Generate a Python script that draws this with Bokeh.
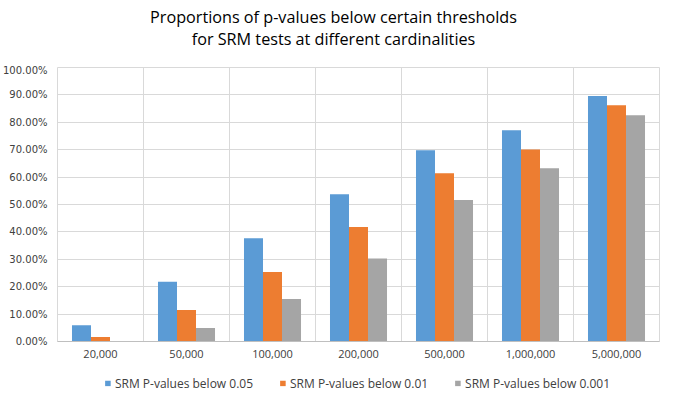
from bokeh.plotting import figure
from bokeh.layouts import column
from bokeh.models import (ColumnDataSource, Range1d, FixedTicker, NumeralTickFormatter,
                          Grid, Legend, LegendItem, Label)
from bokeh.transform import dodge
from bokeh.embed import file_html
from bokeh.resources import INLINE

# ---- data ----
categories = ["20,000", "50,000", "100,000", "200,000", "500,000", "1,000,000", "5,000,000"]
below_005 = [0.059, 0.218, 0.377, 0.537, 0.698, 0.771, 0.896]
below_001 = [0.016, 0.115, 0.254, 0.418, 0.614, 0.701, 0.862]
below_0001 = [0.000, 0.049, 0.155, 0.303, 0.516, 0.632, 0.826]
series_names = ["SRM P-values below 0.05", "SRM P-values below 0.01", "SRM P-values below 0.001"]
title_line1 = "Proportions of p-values below certain thresholds"
title_line2 = "for SRM tests at different cardinalities"
y_ticks = [0.0, 0.1, 0.2, 0.3, 0.4, 0.5, 0.6, 0.7, 0.8, 0.9, 1.0]

colors = ["#5B9BD5", "#ED7D31", "#A5A5A5"]
positions = [i + 0.5 for i in range(len(categories))]
FW = 602

source = ColumnDataSource(dict(x=positions, s1=below_005, s2=below_001, s3=below_0001))

# ---- title strip ----
pt = figure(frame_width=FW, frame_height=64, output_backend="svg", toolbar_location=None,
            x_axis_location=None, y_axis_location=None,
            x_range=Range1d(0, 1), y_range=Range1d(2, 3),
            min_border_left=55, min_border_right=1, min_border_top=0, min_border_bottom=0)
pt.outline_line_color = None
pt.grid.visible = False
pt.title = None
for txt, yy in [(title_line1, 48), (title_line2, 26)]:
    pt.add_layout(Label(x=276, y=yy, x_units="screen", y_units="screen", text=txt,
                        text_align="center", text_baseline="middle",
                        text_font="Open Sans", text_font_size="16.2px", text_color="#000000"))

# ---- main chart ----
p = figure(frame_width=FW, frame_height=274, output_backend="svg", toolbar_location=None,
           x_range=Range1d(0, len(categories)), y_range=Range1d(0, 1),
           min_border_left=55, min_border_right=1, min_border_top=3, min_border_bottom=35)
p.title = None

bw = 0.221
p.vbar(x=dodge("x", -bw, range=p.x_range), top="s1", width=bw, source=source,
       fill_color=colors[0], line_color=None)
p.vbar(x=dodge("x", 0, range=p.x_range), top="s2", width=bw, source=source,
       fill_color=colors[1], line_color=None)
p.vbar(x=dodge("x", bw, range=p.x_range), top="s3", width=bw, source=source,
       fill_color=colors[2], line_color=None)

p.xaxis.axis_label = None
p.xaxis.ticker = FixedTicker(ticks=positions)
p.xaxis.major_label_overrides = {pos: lab for pos, lab in zip(positions, categories)}
p.xaxis.major_tick_line_color = None
p.xaxis.major_tick_out = 0
p.xaxis.major_tick_in = 0
p.xaxis.minor_tick_line_color = None
p.xaxis.axis_line_color = "#BFBFBF"
p.xaxis.major_label_text_font = "Open Sans"
p.xaxis.major_label_text_font_size = "11px"
p.xaxis.major_label_text_color = "#404040"
p.xaxis.major_label_standoff = 8

p.yaxis.axis_label = None
p.yaxis.ticker = FixedTicker(ticks=y_ticks)
p.yaxis.formatter = NumeralTickFormatter(format="0.00%")
p.yaxis.major_tick_line_color = None
p.yaxis.major_tick_out = 0
p.yaxis.major_tick_in = 0
p.yaxis.minor_tick_line_color = None
p.yaxis.axis_line_color = None
p.yaxis.major_label_text_font = "DejaVu Sans"
p.yaxis.major_label_text_font_size = "10px"
p.yaxis.major_label_text_color = "#404040"
p.yaxis.major_label_standoff = 10

p.xgrid.grid_line_color = None
p.ygrid.grid_line_color = "#D9D9D9"
p.ygrid.ticker = FixedTicker(ticks=y_ticks)
p.add_layout(Grid(dimension=0, ticker=FixedTicker(ticks=list(range(len(categories) + 1))),
                  grid_line_color="#D9D9D9"))
p.outline_line_color = "#D9D9D9"

# ---- legend strip (swatches use the same data, drawn outside the strip's visible range) ----
pl = figure(width=658, height=14, output_backend="svg", toolbar_location=None,
            x_axis_location=None, y_axis_location=None,
            x_range=Range1d(0, 1), y_range=Range1d(2, 3),
            min_border_left=55, min_border_right=1, min_border_top=0, min_border_bottom=0)
pl.outline_line_color = None
pl.grid.visible = False
pl.title = None
swatches = [pl.vbar(x="x", top=col, width=0.01, source=source, fill_color=c, line_color=None)
            for col, c in zip(["s1", "s2", "s3"], colors)]
legend = Legend(items=[LegendItem(label=n, renderers=[r]) for n, r in zip(series_names, swatches)],
                orientation="horizontal", location="center",
                glyph_width=7, glyph_height=7, label_standoff=4, spacing=26,
                padding=0, margin=0, label_height=12,
                label_text_font="Open Sans", label_text_font_size="12px",
                label_text_color="#404040", background_fill_alpha=0,
                border_line_color=None)
pl.add_layout(legend)

layout = column(pt, p, pl, spacing=0)
open("out.html", "w").write(file_html(layout, INLINE))
